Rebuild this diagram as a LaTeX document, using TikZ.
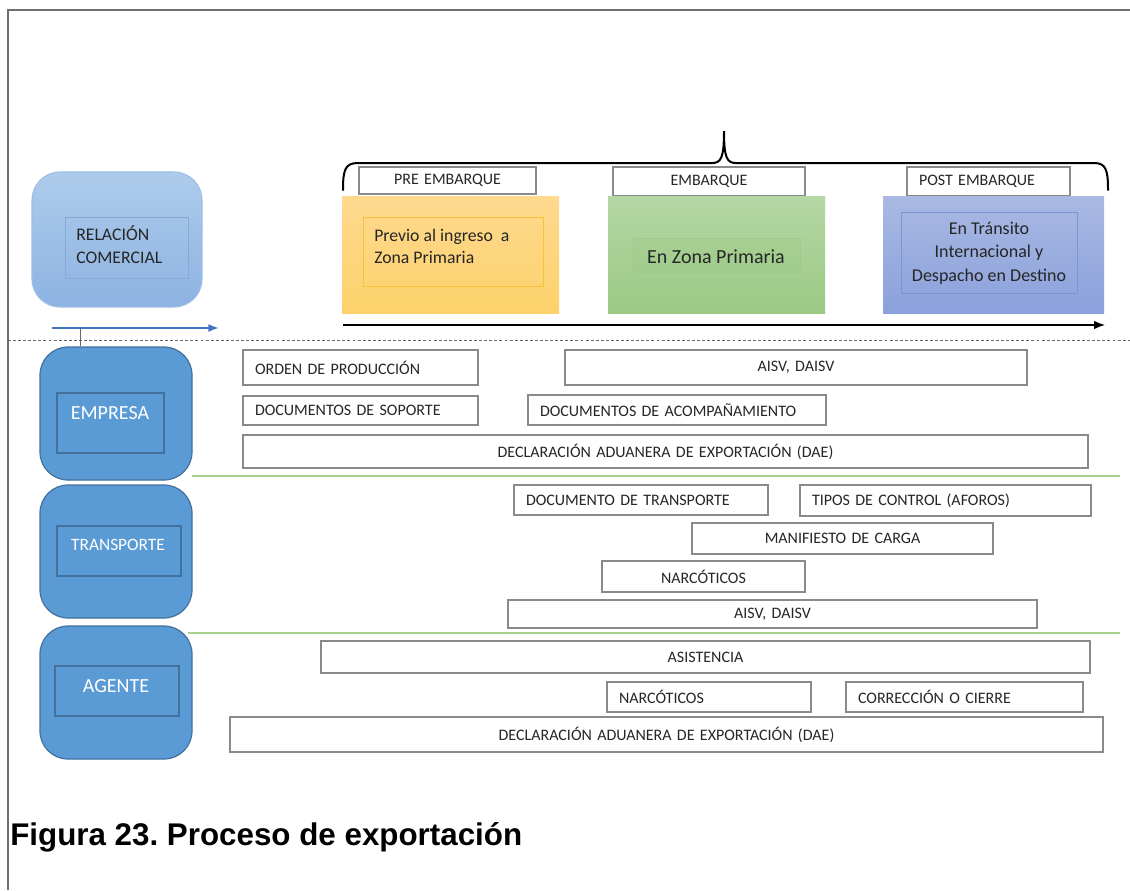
\documentclass[tikz,border=0pt]{standalone}
\usepackage{fontspec}
\setmainfont{Carlito}
\newfontfamily\capfont{Liberation Sans}
\usetikzlibrary{arrows.meta}
\frenchspacing
\definecolor{framec}{HTML}{6E6E6E}
\definecolor{docgray}{HTML}{8A8A8A}
\definecolor{doctext}{HTML}{262626}
\definecolor{lanefill}{HTML}{5B9BD5}
\definecolor{laneedge}{HTML}{41719C}
\definecolor{relTop}{HTML}{AECBEB}
\definecolor{relBot}{HTML}{8DB3E2}
\definecolor{relEdge}{HTML}{9DBFE6}
\definecolor{relInEdge}{HTML}{85AADA}
\definecolor{orTop}{HTML}{FED98F}
\definecolor{orBot}{HTML}{FDD26B}
\definecolor{orIn}{HTML}{F8C23A}
\definecolor{grTop}{HTML}{B4D7A5}
\definecolor{grBot}{HTML}{9CC983}
\definecolor{grIn}{HTML}{9ECB88}
\definecolor{blTop}{HTML}{A9B9E3}
\definecolor{blBot}{HTML}{8BA1DC}
\definecolor{blIn}{HTML}{7F95D0}
\definecolor{sepgreen}{HTML}{A9D18E}
\definecolor{arrblue}{HTML}{4472C4}
\tikzset{
  docbox/.style={draw=docgray, line width=0.8pt, fill=white, text=doctext,
    font=\fontsize{12}{14}\selectfont, inner xsep=9pt, inner ysep=0pt},
  stagelabel/.style={docbox},
  lanebox/.style={draw=laneedge, line width=0.9pt, fill=lanefill, rounded corners=21pt},
  laneinner/.style={draw=laneedge, line width=0.9pt},
  lanetext/.style={text=white, inner sep=0pt},
  relbox/.style={draw=relEdge, line width=0.8pt, top color=relTop, bottom color=relBot, rounded corners=21pt},
  relinner/.style={draw=relInEdge, line width=0.6pt},
  orbox/.style={top color=orTop, bottom color=orBot},
  orinner/.style={draw=orIn, line width=0.6pt},
  grbox/.style={top color=grTop, bottom color=grBot},
  grinner/.style={draw=grIn, line width=0.6pt, fill=grIn, fill opacity=0.35},
  blbox/.style={top color=blTop, bottom color=blBot},
  blinner/.style={draw=blIn, line width=0.6pt},
  darktext/.style={text=doctext, inner sep=0pt},
  sepline/.style={draw=sepgreen, line width=0.8pt},
}
% name, x1, y1, x2, y2, style, text  (pixel coordinates)
\newcommand{\pxbox}[7]{%
  \pgfmathsetmacro{\pbCX}{(#2+#4)/2}%
  \pgfmathsetmacro{\pbCY}{(#3+#5)/2}%
  \pgfmathsetmacro{\pbW}{(#4-#2)*0.75}%
  \pgfmathsetmacro{\pbH}{(#5-#3)*0.75}%
  \pgfmathsetmacro{\pbTW}{\pbW-18}%
  \node[minimum width=\pbW pt, minimum height=\pbH pt, text width=\pbTW pt, #6] (#1) at (\pbCX,\pbCY) {#7};%
}
\begin{document}
\begin{tikzpicture}[x=0.75pt,y=-0.75pt]
\useasboundingbox (0,0) rectangle (1130,890);
\fill[white] (0,0) rectangle (1130,890);
% frame
\draw[framec, line width=1.5pt] (8,890) -- (8,10) -- (1130,10);

% relacion comercial
\pxbox{rel}{32}{172}{202}{307}{relbox, inner sep=0pt}{}
\pxbox{relIn}{65}{217}{188}{278}{relinner, inner sep=0pt}{}
\node[darktext, anchor=west, align=left, font=\fontsize{13.3}{17.3}\selectfont] (relT) at (76,245) {RELACIÓN\\COMERCIAL};

% brace
\draw[line width=1.5pt, line cap=round]
  (343,190) .. controls (343,170) and (345,163) .. (358,163) -- (712,163)
  .. controls (721,163) and (724,158) .. (724,131)
  .. controls (724,158) and (727,163) .. (736,163) -- (1094,163)
  .. controls (1106,163) and (1108,170) .. (1108,190);

% stage labels
\pxbox{preL}{359}{167}{536}{194}{stagelabel, align=center}{PRE EMBARQUE}
\pxbox{embL}{613}{167}{805}{196}{stagelabel, align=center}{EMBARQUE}
\pxbox{posL}{907}{167}{1070}{196}{stagelabel, align=left}{POST EMBARQUE}

% stage boxes
\pxbox{preB}{342}{196}{559}{313}{orbox, inner sep=0pt}{}
\pxbox{preIn}{363}{217}{543}{286}{orinner, inner sep=0pt}{}
\node[darktext, anchor=west, align=left, font=\fontsize{13.3}{16.5}\selectfont] (preT) at (374,246) {Previo al ingreso\ \ a\\Zona Primaria};

\pxbox{embB}{608}{196}{825}{313}{grbox, inner sep=0pt}{}
\pxbox{embIn}{633}{238}{800}{272}{grinner, inner sep=0pt}{}
\node[darktext, font=\fontsize{15}{18}\selectfont] (embT) at (716,257) {En Zona Primaria};

\pxbox{posB}{883}{196}{1104}{313}{blbox, inner sep=0pt}{}
\pxbox{posIn}{901}{212}{1077}{293}{blinner, inner sep=0pt}{}
\node[darktext, align=center, font=\fontsize{13.5}{17.6}\selectfont] (posT) at (989,253) {En Tránsito\\Internacional y\\Despacho en Destino};

% timeline arrow
\coordinate (ta1) at (343,325);
\coordinate (ta2) at (1106,325);
\draw[line width=2.2pt, -{Latex[length=9pt,width=6.5pt]}] (ta1) -- (ta2);

% small blue arrow
\coordinate (ra1) at (52,328);
\coordinate (ra2) at (219,328);
\draw[arrblue, line width=1.3pt, -{Latex[length=8pt,width=6pt]}] (ra1) -- (ra2);

% dashed divider
\coordinate (d1) at (8,340);
\coordinate (d2) at (1130,340);
\draw[black!60, line width=0.7pt, dash pattern=on 2.2pt off 1.6pt] (d1) -- (d2);

% lanes
\pxbox{emp}{40}{347}{192}{480}{lanebox, inner sep=0pt}{}
\pxbox{empIn}{57}{393}{164}{453}{laneinner, inner sep=0pt}{}
\node[lanetext, font=\fontsize{15}{18}\selectfont] (empT) at (110,413) {EMPRESA};

\pxbox{tra}{40}{485}{192}{618}{lanebox, inner sep=0pt}{}
\pxbox{traIn}{57}{526}{181}{576}{laneinner, inner sep=0pt}{}
\node[lanetext, font=\fontsize{13}{16}\selectfont] (traT) at (118,545) {TRANSPORTE};

\pxbox{age}{40}{626}{192}{759}{lanebox, inner sep=0pt}{}
\pxbox{ageIn}{55}{666}{179}{716}{laneinner, inner sep=0pt}{}
\node[lanetext, font=\fontsize{15}{18}\selectfont] (ageT) at (116,686) {AGENTE};

% connector arrow -> empresa
\coordinate (tap) at (80,328);
\draw[black!60, line width=0.7pt] (tap) -- (tap |- emp.north);

% green separators
\coordinate (s1a) at (192,476);
\coordinate (s1b) at (1120,476);
\coordinate (s2a) at (188,633);
\coordinate (s2b) at (1120,633);
\draw[sepline] (s1a) -- (s1b);
\draw[sepline] (s2a) -- (s2b);

% documents
\pxbox{ordP}{243}{350}{478}{385}{docbox, align=left}{ORDEN DE PRODUCCIÓN}
\pxbox{aisvA}{565}{350}{1027}{385}{docbox, align=center}{AISV, DAISV}
\pxbox{docSop}{243}{396}{478}{425}{docbox, align=left}{DOCUMENTOS DE SOPORTE}
\pxbox{docAc}{528}{395}{826}{425}{docbox, align=left}{DOCUMENTOS DE ACOMPAÑAMIENTO}
\pxbox{daeA}{243}{435}{1088}{468}{docbox, align=center}{DECLARACIÓN ADUANERA DE EXPORTACIÓN (DAE)}
\pxbox{docTr}{514}{485}{768}{515}{docbox, align=left}{DOCUMENTO DE TRANSPORTE}
\pxbox{tipos}{800}{485}{1091}{516}{docbox, align=left}{TIPOS DE CONTROL (AFOROS)}
\pxbox{manif}{692}{523}{993}{554}{docbox, align=center}{MANIFIESTO DE CARGA}
\pxbox{narcA}{602}{561}{805}{592}{docbox, align=center}{NARCÓTICOS}
\pxbox{aisvB}{508}{600}{1037}{628}{docbox, align=center}{AISV, DAISV}
\pxbox{asist}{321}{641}{1090}{673}{docbox, align=center}{ASISTENCIA}
\pxbox{narcB}{607}{682}{811}{712}{docbox, align=left}{NARCÓTICOS}
\pxbox{corr}{846}{682}{1083}{712}{docbox, align=left}{CORRECCIÓN O CIERRE}
\pxbox{daeB}{230}{717}{1103}{752}{docbox, align=center}{DECLARACIÓN ADUANERA DE EXPORTACIÓN (DAE)}

% caption
\node[anchor=base west, inner sep=0pt, font=\capfont\bfseries\fontsize{23.5}{28}\selectfont] (cap) at (10,845) {Figura 23. Proceso de exportación};
\end{tikzpicture}
\end{document}
